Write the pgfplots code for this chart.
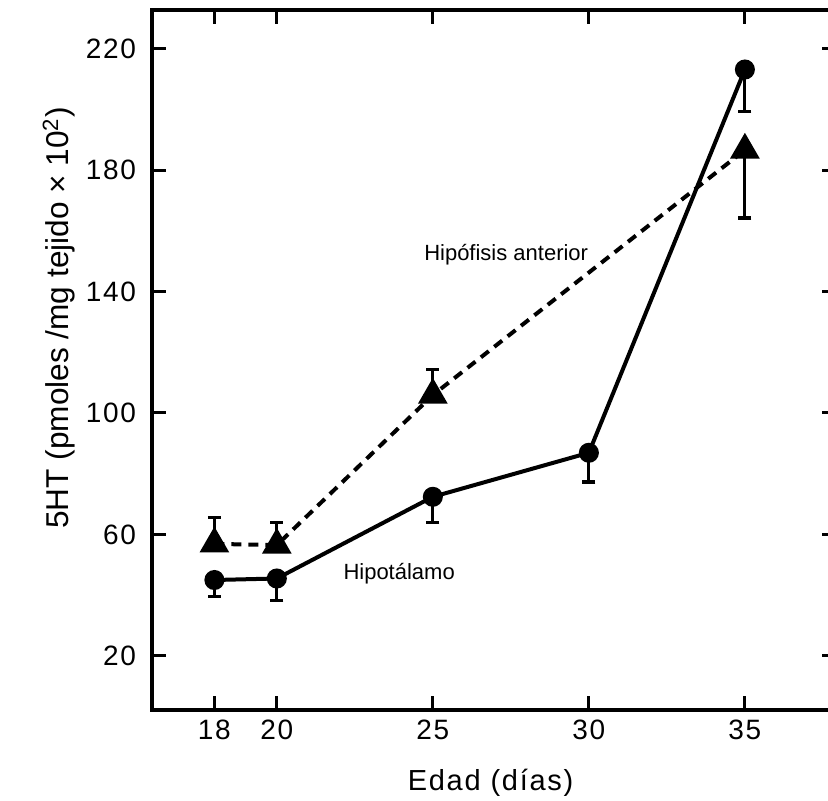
\documentclass[border=0pt]{standalone}
\usepackage{pgfplots}
\pgfplotsset{compat=1.18}
\usepackage{fontspec}
\setmainfont{Liberation Sans}
\newfontfamily\spaced[LetterSpace=6]{Liberation Sans}
\begin{document}
\begin{tikzpicture}
% page = 828x801 px at 2 px/pt; axis box lower left 76pt from the left, 45.5pt from the bottom
\path[use as bounding box, clip] (-76pt,-45.5pt) rectangle (338pt,355pt);
\begin{axis}[
    at={(0pt,0pt)}, anchor=south west,
    scale only axis,
    width=342pt, height=350pt,
    xmin=16, xmax=37.92,
    ymin=2.2, ymax=232.7,
    xtick={18,20,25,30,35},
    ytick={20,60,100,140,180,220},
    tick align=inside,
    major tick length=7pt,
    every tick/.style={black, line width=1.5pt},
    axis line style={line width=1.6pt},
    /pgf/number format/assume math mode=true,
    ticklabel style={font=\spaced\fontsize{14}{14}\selectfont},
    xticklabel style={yshift=-1.3pt},
    yticklabel style={xshift=-4.5pt},
    xlabel={Edad (días)},
    ylabel={5HT (pmoles /mg tejido × 10\textsuperscript{2})},
    xlabel style={font=\spaced\fontsize{14.5}{15}\selectfont, at={(axis description cs:0.495,-0.1143)}, anchor=base},
    ylabel style={font=\fontsize{15.8}{16}\selectfont, at={(axis description cs:-0.122,0.56)}, anchor=base},
    clip=false,
]
% Hipotalamo
\addplot[black, line width=2pt, mark=*, mark size=4pt,
    error bars/.cd, y dir=minus, y explicit,
    error bar style={line width=1.6pt, solid},
    error mark options={rotate=90, mark size=3.25pt, line width=1.6pt}]
coordinates {
    (18,45.0) -= (0,5.5)
    (20,45.5) -= (0,7.3)
    (25,72.4) -= (0,8.5)
    (30,86.9) -= (0,9.6)
    (35,213.1) -= (0,13.9)
};
% Hipofisis anterior
\addplot[black, line width=2pt, dash pattern=on 5pt off 3.5pt, mark=triangle*, mark size=6.6pt,
    mark options={solid},
    error bars/.cd, y dir=both, y explicit,
    error bar style={line width=1.6pt, solid},
    error mark options={rotate=90, mark size=3.25pt, line width=1.6pt, solid}]
coordinates {
    (18,56.9) += (0,8.7)
    (20,56.5) += (0,7.4)
    (25,105.9) += (0,8.5)
    (35,186.6) -= (0,22.4)
};
\node[font=\fontsize{11}{11}\selectfont, anchor=base] at (axis cs:27.35,150.3) {Hipófisis anterior};
\node[font=\fontsize{11}{11}\selectfont, anchor=base] at (axis cs:23.92,45.3) {Hipotálamo};
\end{axis}
\end{tikzpicture}
\end{document}
